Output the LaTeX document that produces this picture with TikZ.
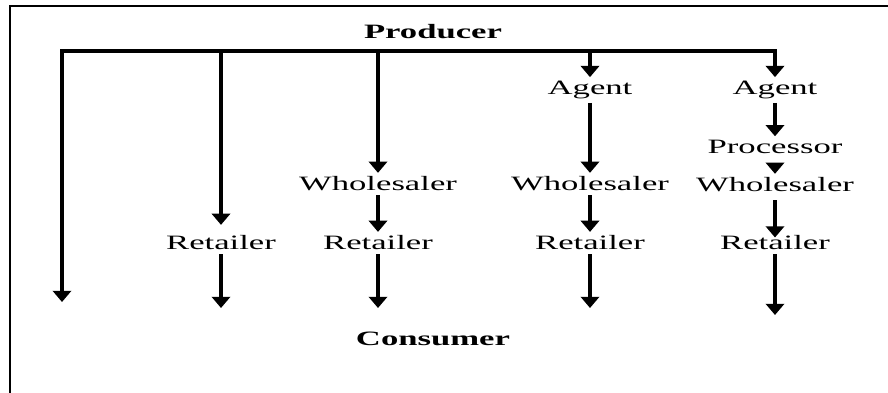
\documentclass[tikz,border=0pt]{standalone}
\usepackage{fontspec}
\setmainfont{Liberation Serif}[FakeStretch=1.7]
\usetikzlibrary{arrows.meta}

\tikzset{
  stage/.style={inner sep=0pt, outer sep=2.8pt, font=\fontsize{14.5}{16}\selectfont},
  head/.style={stage, font=\fontsize{14.5}{16}\selectfont\bfseries},
  flow/.style={line width=3.3pt, -{Triangle[width=13pt, length=8pt]}}
}

\begin{document}
\begin{tikzpicture}[x=0.025cm, y=-0.025cm]
        \useasboundingbox (0,0) rectangle (888,393);
        \draw[line width=2pt] (10,393)--(10,6)--(888,6);
        \node[head] (prod) at (433,32) {Producer};
        \coordinate (b1) at (62,51);
        \coordinate (b2) at (221,51);
        \coordinate (b3) at (378,51);
        \coordinate (b4) at (590,51);
        \coordinate (b5) at (775,51);
        \draw[line width=2.4pt, line cap=rect] (b1)--(b5);
        \node[stage] (ret2) at (221,243) {Retailer};
        \node[stage] (whl3) at (378,184) {Wholesaler};
        \node[stage] (ret3) at (378,243) {Retailer};
        \node[stage] (agt4) at (590,90) {Agent};
        \node[stage] (whl4) at (590,184) {Wholesaler};
        \node[stage] (ret4) at (590,243) {Retailer};
        \node[stage] (agt5) at (775,90) {Agent};
        \node[stage] (proc5) at (775,147) {Processor};
        \node[stage] (whl5) at (775,185) {Wholesaler};
        \node[stage] (ret5) at (775,243) {Retailer};
        \node[head] (cons) at (433,339) {Consumer};
        \coordinate (e1) at (62,302);
        \coordinate (e2) at (221,308);
        \coordinate (e3) at (378,308);
        \coordinate (e4) at (590,308);
        \coordinate (e5) at (775,315);
        \draw[flow] (b1)--(e1);
        \draw[flow, shorten >=5pt] (b2)--(ret2);
        \draw[flow] (ret2)--(e2);
        \draw[flow] (b3)--(whl3);
        \draw[flow] (whl3)--(ret3);
        \draw[flow] (ret3)--(e3);
        \draw[flow] (b4)--(agt4);
        \draw[flow] (agt4)--(whl4);
        \draw[flow] (whl4)--(ret4);
        \draw[flow] (ret4)--(e4);
        \draw[flow] (b5)--(agt5);
        \draw[flow] (agt5)--(proc5);
        \draw[flow, shorten <=4pt] (proc5)--(whl5);
        \draw[flow, shorten <=3pt, shorten >=-4pt] (whl5)--(ret5);
        \draw[flow] (ret5)--(e5);
\end{tikzpicture}
\end{document}
